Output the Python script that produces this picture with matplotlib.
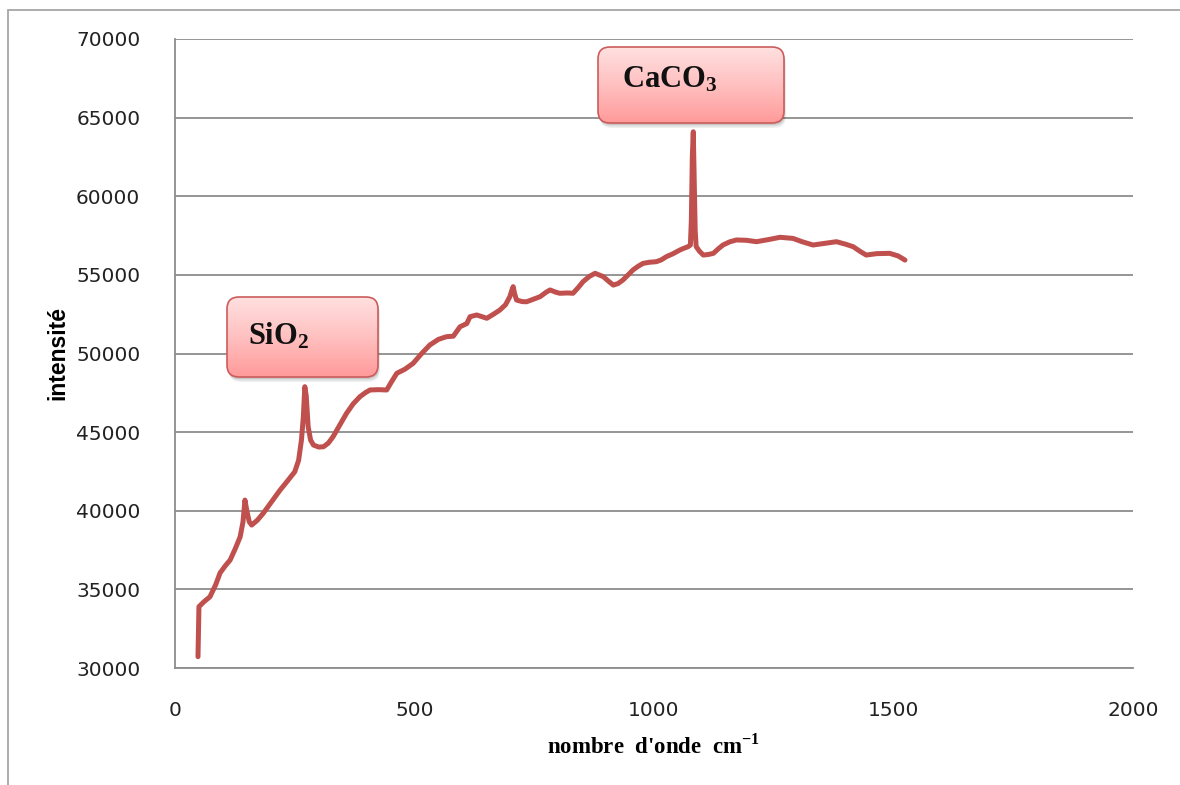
import numpy as np
import matplotlib
matplotlib.use('Agg')
import matplotlib.pyplot as plt
from matplotlib.patches import FancyBboxPatch, Rectangle

# spectre Raman
nombre_onde = [48, 49, 50, 60, 73, 85, 94, 105, 115, 126, 136, 142, 146, 150, 155, 160,
               172, 184, 200, 219, 235, 250, 258, 264, 268, 271, 274, 278, 283, 289,
               300, 310, 320, 330, 345, 358, 372, 386, 397, 407, 425, 442, 452, 463,
               480, 497, 515, 532, 550, 567, 581, 595, 609, 616, 630, 651, 665, 678,
               690, 699, 703, 706, 709, 713, 725, 734, 748, 762, 775, 783, 795, 803,
               820, 831, 842, 852, 865, 877, 885, 894, 905, 915, 925, 935, 946, 956,
               967, 977, 990, 1005, 1015, 1026, 1040, 1054, 1063, 1071, 1076, 1078,
               1080, 1082, 1084, 1086, 1088, 1095, 1103, 1114, 1124, 1134, 1144, 1158,
               1172, 1193, 1214, 1240, 1263, 1290, 1310, 1332, 1355, 1381, 1400, 1416,
               1430, 1443, 1465, 1492, 1510, 1524]
intensite = [30720, 32500, 33900, 34200, 34530, 35300, 36040, 36500, 36860, 37600, 38340,
             39300, 40680, 40000, 39300, 39090, 39400, 39830, 40500, 41300, 41900, 42480,
             43200, 44500, 46000, 47890, 47300, 45340, 44500, 44180, 44050, 44070, 44300,
             44710, 45500, 46190, 46800, 47250, 47500, 47680, 47700, 47680, 48200, 48740,
             49000, 49370, 50000, 50540, 50900, 51070, 51100, 51700, 51900, 52340, 52450,
             52240, 52500, 52760, 53100, 53610, 54000, 54250, 53800, 53400, 53300, 53290,
             53450, 53610, 53900, 54040, 53900, 53830, 53850, 53830, 54200, 54570, 54900,
             55100, 55000, 54890, 54600, 54350, 54450, 54670, 55000, 55310, 55550, 55730,
             55800, 55840, 55950, 56160, 56350, 56580, 56700, 56790, 56900, 58500, 62500,
             64100, 61000, 57800, 56800, 56500, 56260, 56300, 56370, 56650, 56900, 57100,
             57220, 57200, 57110, 57250, 57390, 57320, 57100, 56900, 57000, 57110, 56950,
             56790, 56500, 56260, 56350, 56370, 56200, 55940]

x_ticks = [0, 500, 1000, 1500, 2000]
y_ticks = [30000, 35000, 40000, 45000, 50000, 55000, 60000, 65000, 70000]

# etiquettes : texte, boite (x, y, largeur, hauteur en pouces), position du texte
etiquettes = [
    (r'$\mathbf{SiO_2}$', (2.27, 4.08, 1.51, 0.80), (2.48, 4.40)),
    (r'$\mathbf{CaCO_3}$', (5.98, 6.62, 1.86, 0.76), (6.22, 6.98)),
]

plt.rcParams['mathtext.fontset'] = 'custom'
plt.rcParams['mathtext.rm'] = 'Liberation Serif'
plt.rcParams['mathtext.bf'] = 'Liberation Serif:bold'

fig = plt.figure(figsize=(11.8, 7.85), dpi=100)
ax = fig.add_axes([175/1180, 1 - 668/785, 958/1180, 629/785])

# cadre exterieur du graphique
fig.add_artist(Rectangle((8/1180, -0.1), 1.2, 1 - 10/785 + 0.1, transform=fig.transFigure,
                         fill=False, edgecolor='#a6a6a6', linewidth=1.3))

ax.plot(nombre_onde, intensite, color='#C0504D', linewidth=3.6,
        solid_joinstyle='round', solid_capstyle='round', zorder=3)

ax.set_xlim(0, 2000)
ax.set_ylim(30000, 70000)
ax.set_xticks(x_ticks)
ax.set_yticks(y_ticks)
ax.tick_params(axis='both', length=0, labelsize=14.5, labelcolor='#222222')
ax.tick_params(axis='y', pad=25)
ax.tick_params(axis='x', pad=24)
ax.yaxis.grid(True, color='#8c8c8c', linewidth=1.3)
ax.set_axisbelow(True)
for s in ['top', 'right']:
    ax.spines[s].set_visible(False)
for s in ['left', 'bottom']:
    ax.spines[s].set_color('#8c8c8c')
    ax.spines[s].set_linewidth(1.3)

ax.set_xlabel(r"nombre  d'onde  cm$^{\mathbf{-1}}$", family='Liberation Serif',
              fontweight='bold', fontsize=16.5, labelpad=10)
ax.set_ylabel('intensité', family='Liberation Sans', fontweight='bold', fontsize=16.5)
ax.yaxis.set_label_coords(-106/958, 0.5)

# boites avec degrade rose et ombre
tr = fig.dpi_scale_trans
degrade = np.linspace(0, 1, 100).reshape(-1, 1)
cmap = matplotlib.colors.LinearSegmentedColormap.from_list(
    'rose', ['#ffe0e0', '#ffc0c0', '#ff9a9a'])
for texte, (bx, by, bw, bh), (tx, ty) in etiquettes:
    for k, a in enumerate([0.10, 0.08, 0.06]):
        d = 0.02 + 0.015 * k
        ombre = FancyBboxPatch((bx + d * 0.4, by - d), bw, bh,
                               boxstyle='round,pad=0,rounding_size=0.12',
                               transform=tr, facecolor='black', edgecolor='none',
                               alpha=a, zorder=4, clip_on=False)
        ax.add_patch(ombre)
    boite = FancyBboxPatch((bx, by), bw, bh, boxstyle='round,pad=0,rounding_size=0.12',
                           transform=tr, facecolor='none', edgecolor='#cc5c5c',
                           linewidth=1.2, zorder=6, clip_on=False)
    ax.add_patch(boite)
    im = ax.imshow(degrade, cmap=cmap, extent=[bx, bx + bw, by, by + bh],
                   transform=tr, aspect='auto', zorder=5, origin='upper')
    im.set_clip_path(boite)
    ax.text(tx, ty, texte, transform=tr, fontsize=22, color='#111111', zorder=7)

ax.set_xlim(0, 2000)
ax.set_ylim(30000, 70000)

fig.savefig('out.png', dpi=100)
